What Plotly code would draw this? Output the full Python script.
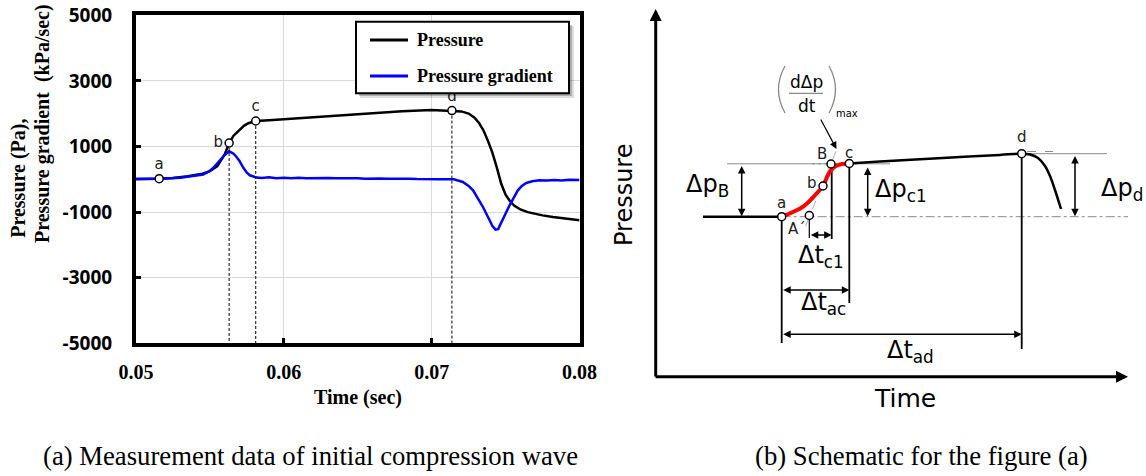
import plotly.graph_objects as go

W, H = 1146, 476

# ---------------- (a) measurement data ----------------
time_p = [0.0500, 0.0510, 0.0516, 0.0525, 0.0530, 0.0535, 0.0540, 0.0545, 0.0550, 0.0555,
          0.0560, 0.0563, 0.0566, 0.0570, 0.0573, 0.0576, 0.0581, 0.0590, 0.0600, 0.0620,
          0.0640, 0.0660, 0.0680, 0.0700, 0.0714, 0.0720, 0.0725, 0.0729, 0.0732, 0.0735,
          0.0738, 0.0741, 0.0744, 0.0747, 0.0750, 0.0753, 0.0756, 0.0760, 0.0765, 0.0770,
          0.0775, 0.0782, 0.0790, 0.0800]
pressure = [0, 5, 15, 40, 60, 90, 130, 170, 250, 400,
            760, 1107, 1330, 1510, 1630, 1710, 1777, 1800, 1830, 1890,
            1960, 2020, 2075, 2110, 2095, 2070, 2005, 1880, 1720, 1494,
            1180, 820, 370, -130, -470, -670, -810, -920, -1000, -1060,
            -1100, -1150, -1195, -1250]

time_g = [0.0500, 0.0510, 0.0520, 0.0530, 0.0535, 0.0540, 0.05455, 0.0550, 0.05522, 0.05568,
          0.0560, 0.0563, 0.0566, 0.0568, 0.0570, 0.05725, 0.0575, 0.0577, 0.05815, 0.0585,
          0.0590, 0.0595, 0.0600, 0.0605, 0.0610, 0.0615, 0.0620, 0.0625, 0.0630, 0.0635,
          0.0640, 0.0645, 0.0650, 0.0655, 0.0660, 0.0665, 0.0670, 0.0675, 0.0680, 0.0685,
          0.0690, 0.0695, 0.0700, 0.0705, 0.0710, 0.0715, 0.07211, 0.0725, 0.0728, 0.0731,
          0.07347, 0.07392, 0.0741, 0.07432, 0.0745, 0.0746, 0.07482, 0.07527, 0.07583, 0.0761,
          0.0764, 0.0768, 0.0773, 0.0778, 0.0783, 0.0788, 0.0793, 0.0797, 0.0800]
gradient = [20, 20, 25, 50, 80, 110, 143, 260, 345, 580,
            740, 854, 780, 680, 560, 357, 200, 122, 52, 40,
            60, 35, 45, 30, 50, 35, 40, 25, 40, 30,
            35, 25, 30, 20, 30, 25, 20, 25, 15, 20,
            10, 15, 10, 5, 5, 0, -82, -200, -335, -560,
            -844, -1250, -1420, -1534, -1520, -1420, -1199, -793, -335, -200,
            -113, -60, -30, -40, -20, -35, -15, -30, -25]

series_names = ["Pressure", "Pressure gradient"]
series_colors = ["black", "#0000ff"]

pt_names = ["a", "b", "c", "d"]
pt_time = [0.05157, 0.0563, 0.0581, 0.07137]
pt_value = [20, 1107, 1777, 2095]
pt_textpos = ["top center", "middle left", "top center", "top center"]
dashed_pts = [1, 2, 3]          # indices of points with a drop line

x_ticks = [0.05, 0.06, 0.07, 0.08]
x_ticktext = ["0.05", "0.06", "0.07", "0.08"]
y_ticks = [-5000, -3000, -1000, 1000, 3000, 5000]
y_ticktext = ["-5000", "-3000", "-1000", "1000", "3000", "5000"]
y_min, y_max = -5000, 5000

# ---------------- (b) schematic (schematic units) ----------------
sch_base_t = [703, 781.7]
sch_base_p = [216.7, 216.7]
sch_rise_t = [781.7, 793, 801, 807, 812, 817, 823, 828, 832, 836, 842, 849.3]
sch_rise_p = [216.7, 212, 208, 203.5, 198.5, 193, 186, 175, 169, 166, 164, 163.5]
sch_plat_t = [849.3, 880, 920, 960, 1000, 1021.7, 1030, 1038, 1045, 1050, 1055, 1061]
sch_plat_p = [163.5, 161.6, 159.3, 157.0, 154.9, 153.7, 154.5, 158, 166, 176, 190, 209]
sch_pt_names = ["a", "A´", "b", "B", "c", "d"]
sch_pt_t = [781.7, 809.3, 823, 831, 849.3, 1021.7]
sch_pt_p = [216.7, 215.5, 186, 164, 163.5, 153.7]
sch_lbl_t = [781.7, 797, 812, 821.7, 849.3, 1021.7]
sch_lbl_p = [203, 229, 182.7, 154, 152.7, 137]

fig = go.Figure()

SERIF = "Liberation Serif"
SANS = "DejaVu Sans"

fig.add_trace(go.Scatter(x=time_p, y=pressure, mode="lines", name=series_names[0],
                         line=dict(color=series_colors[0], width=2.5)))
fig.add_trace(go.Scatter(x=time_g, y=gradient, mode="lines", name=series_names[1],
                         line=dict(color=series_colors[1], width=2.5)))
for i in dashed_pts:
    fig.add_trace(go.Scatter(x=[pt_time[i], pt_time[i]], y=[pt_value[i], y_min], mode="lines",
                             showlegend=False, hoverinfo="skip",
                             line=dict(color="black", width=1, dash="3px,2px")))
fig.add_trace(go.Scatter(x=pt_time, y=pt_value, mode="markers+text", text=pt_names,
                         textposition=pt_textpos, showlegend=False,
                         textfont=dict(family=SANS, size=15, color="#222"),
                         marker=dict(size=8, color="white", line=dict(color="black", width=1.5))))

# schematic traces
fig.add_trace(go.Scatter(x=sch_base_t, y=sch_base_p, xaxis="x2", yaxis="y2", mode="lines",
                         showlegend=False, line=dict(color="black", width=2.5)))
fig.add_trace(go.Scatter(x=sch_plat_t, y=sch_plat_p, xaxis="x2", yaxis="y2", mode="lines",
                         showlegend=False, line=dict(color="black", width=2.5, shape="spline")))
fig.add_trace(go.Scatter(x=sch_rise_t, y=sch_rise_p, xaxis="x2", yaxis="y2", mode="lines",
                         showlegend=False, line=dict(color="#ff0000", width=4, shape="spline")))

GRAY = "#8a8a8a"
shapes = []
def sline(x0, y0, x1, y1, color="black", width=1.8, dash=None, ref=("x2", "y2"),
          layer="below"):
    d = dict(type="line", xref=ref[0], yref=ref[1], x0=x0, y0=y0, x1=x1, y1=y1,
             line=dict(color=color, width=width), layer=layer)
    if dash:
        d["line"]["dash"] = dash
    shapes.append(d)

# reference lines in schematic
sline(781.7, 216.7, 1128, 216.7, GRAY, 1, "dashdot")
sline(727, 163.8, 890, 163.8, GRAY, 1)
sline(812, 163.8, 830, 163.8, GRAY, 1, "dot")
sline(1023, 153.7, 1107, 153.7, GRAY, 1)
sline(1027, 151.5, 1053, 151.5, GRAY, 1, "dash")
sline(805.5, 226, 837, 149, "#b0b0b0", 1, "dash")
# drop lines
sline(781.7, 216.7, 781.7, 343)
sline(831.7, 166, 831.7, 239)
sline(849.3, 168, 849.3, 303)
sline(1021.7, 157, 1021.7, 349)
sline(809.3, 219, 809.3, 238, "black", 1.2)
# parentheses of (dΔp/dt)
shapes.append(dict(type="path", xref="x2", yref="y2", path="M 785,66 Q 772,89.5 785,113",
                   line=dict(color=GRAY, width=1.3)))
shapes.append(dict(type="path", xref="x2", yref="y2", path="M 829,66 Q 842,89.5 829,113",
                   line=dict(color=GRAY, width=1.3)))
sline(789, 93.3, 823, 93.3, GRAY, 1.3)

# legend of (a): shadow, box, samples
P = ("paper", "paper")
shapes.append(dict(type="rect", xref="paper", yref="paper", x0=360/W, x1=574/W,
                   y0=1-98/H, y1=1-26/H, fillcolor="rgba(0,0,0,0.13)", line=dict(width=0),
                   layer="above"))
shapes.append(dict(type="rect", xref="paper", yref="paper", x0=359/W, x1=572/W,
                   y0=1-96/H, y1=1-25/H, fillcolor="rgba(0,0,0,0.22)", line=dict(width=0),
                   layer="above"))
shapes.append(dict(type="rect", xref="paper", yref="paper", x0=356/W, x1=569/W,
                   y0=1-93.3/H, y1=1-21.7/H, fillcolor="white",
                   line=dict(color="black", width=2), layer="above"))
leg_y = [40, 76]
for yy, col in zip(leg_y, series_colors):
    sline(370/W, 1-yy/H, 408/W, 1-yy/H, col, 2.8, ref=P, layer="above")

fig.add_trace(go.Scatter(x=sch_pt_t, y=sch_pt_p, xaxis="x2", yaxis="y2", mode="markers",
                         showlegend=False,
                         marker=dict(size=8, color="white", line=dict(color="black", width=1.5))))

ann = []
def arrow(x0, y0, x1, y1, both=True, width=1.5, size=1.0, head=2):
    ann.append(dict(xref="x2", yref="y2", axref="x2", ayref="y2", x=x1, y=y1, ax=x0, ay=y0,
                    text="", showarrow=True, arrowhead=head, startarrowhead=head,
                    arrowside="end+start" if both else "end", arrowsize=size,
                    startarrowsize=size, arrowwidth=width, arrowcolor="black",
                    standoff=0, startstandoff=0))

def label(x, y, text, size=24, ref=("x2", "y2"), family=SANS, angle=0, color="black",
          xanchor="center", yanchor="middle", bold=False):
    ann.append(dict(xref=ref[0], yref=ref[1], x=x, y=y, text=text, showarrow=False,
                    textangle=angle, xanchor=xanchor, yanchor=yanchor,
                    font=dict(family=family, size=size, color=color,
                              weight="bold" if bold else "normal")))

# axes arrows
arrow(655.7, 378, 655.7, 9, both=False, width=3, size=0.8)
arrow(654, 376.7, 1128, 376.7, both=False, width=3, size=0.8)
# dimension arrows
arrow(741.7, 164.5, 741.7, 216.2)
arrow(867.7, 166, 867.7, 216.2)
arrow(1075, 154.5, 1075, 216.2)
arrow(809.3, 235, 831.7, 235)
arrow(781.7, 290, 849.3, 290)
arrow(781.7, 334.3, 1021.7, 334.3)
arrow(820, 118, 836.5, 149, both=False, width=1.2, size=1.2)

label(707, 185, "Δp<sub>B</sub>")
label(901, 190, "Δp<sub>c1</sub>")
label(1122, 189, "Δp<sub>d</sub>")
label(821, 256, "Δt<sub>c1</sub>")
label(823, 303, "Δt<sub>ac</sub>")
label(910, 351, "Δt<sub>ad</sub>")
label(905, 398, "Time", 25)
label(624, 195, "Pressure", 24, angle=-90)
label(806.5, 82, "dΔp", 17)
label(807, 106, "dt", 17)
label(847, 113.5, "max", 10)
for n, x, y in zip(sch_pt_names, sch_lbl_t, sch_lbl_p):
    label(x, y, n, 15, color="#222")

# legend texts of (a)
for yy, name in zip(leg_y, series_names):
    label(415/W, 1-yy/H, name, 18, ref=P, family=SERIF, xanchor="left", bold=True)

# captions & (a) titles
label(310/W, 1-456/H, "(a) Measurement data of initial compression wave", 26.7,
      ref=P, family=SERIF)
label(921/W, 1-456/H, "(b) Schematic for the figure (a)", 26.7, ref=P, family=SERIF)
label(358/W, 1-397/H, "Time (sec)", 20, ref=P, family=SERIF, bold=True)
label(18.3/W, 1-240/H, "Pressure (Pa),", 20, ref=P, family=SERIF,
      angle=-90, yanchor="bottom", bold=True)
label(42.5/W, 1-245/H, "Pressure gradient  (kPa/sec)", 20, ref=P,
      family=SERIF, angle=-90, yanchor="bottom", bold=True)

fig.update_layout(
    width=W, height=H, autosize=False,
    margin=dict(l=0, r=0, t=0, b=0, autoexpand=False),
    paper_bgcolor="white", plot_bgcolor="white",
    shapes=shapes, annotations=ann,
    showlegend=False,
    xaxis=dict(domain=[136/W, 579.5/W], range=[0.05, 0.08], tickvals=x_ticks,
               ticktext=x_ticktext, showgrid=True, gridcolor="#d9d9d9", gridwidth=1,
               showline=True, linecolor="black", linewidth=4, mirror=True,
               ticks="inside", ticklen=5, tickwidth=3, tickcolor="black",
               zeroline=False, ticklabelstandoff=8, automargin=False,
               tickfont=dict(family=SERIF, size=20, color="black", weight="bold")),
    yaxis=dict(domain=[1-343.3/H, 1-15.3/H], range=[y_min, y_max], tickvals=y_ticks,
               ticktext=y_ticktext,
               showgrid=True, gridcolor="#d9d9d9", gridwidth=1,
               showline=True, linecolor="black", linewidth=4, mirror=True,
               ticks="inside", ticklen=5, tickwidth=3, tickcolor="black",
               zeroline=False, ticklabelstandoff=16, automargin=False,
               tickfont=dict(family="Open Sans", size=19, color="black", weight="bold")),
    xaxis2=dict(domain=[600/W, 1], range=[600, 1146], visible=False, anchor="y2",
                automargin=False),
    yaxis2=dict(domain=[0, 1], range=[476, 0], visible=False, anchor="x2",
                automargin=False),
)

fig.write_html("out.html", config={"displayModeBar": False},
               post_script="document.body.style.margin='0px';document.body.style.overflow='hidden';")
